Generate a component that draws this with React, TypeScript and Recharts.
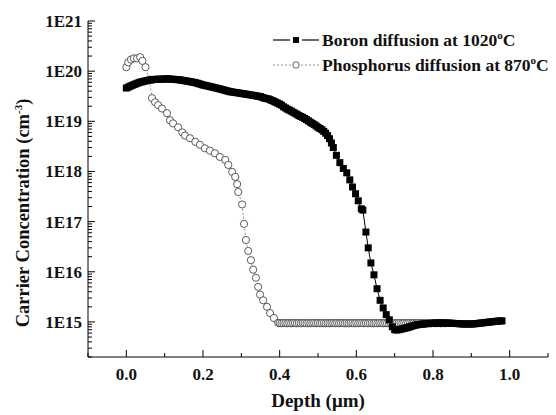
import React from "react";
import { ComposedChart, Line, XAxis, YAxis } from "recharts";

// Boron diffusion at 1020°C : depth (µm) and carrier concentration (cm^-3)
const boronDepth = [
  0.0, 0.005, 0.01, 0.015, 0.02, 0.025, 0.03, 0.035, 0.04, 0.045,
  0.05, 0.055, 0.06, 0.065, 0.07, 0.075, 0.08, 0.085, 0.09, 0.095,
  0.1, 0.105, 0.11, 0.115, 0.12, 0.125, 0.13, 0.135, 0.14, 0.145,
  0.15, 0.155, 0.16, 0.165, 0.17, 0.175, 0.18, 0.185, 0.19, 0.195,
  0.2, 0.205, 0.21, 0.215, 0.22, 0.225, 0.23, 0.235, 0.24, 0.245,
  0.25, 0.255, 0.26, 0.265, 0.27, 0.275, 0.28, 0.285, 0.29, 0.295,
  0.3, 0.305, 0.31, 0.315, 0.32, 0.325, 0.33, 0.335, 0.34, 0.345,
  0.35, 0.355, 0.36, 0.365, 0.37, 0.375, 0.38, 0.385, 0.39, 0.395,
  0.4, 0.405, 0.41, 0.415, 0.42, 0.425, 0.43, 0.435, 0.44, 0.445,
  0.45, 0.455, 0.46, 0.465, 0.47, 0.475, 0.48, 0.485, 0.49, 0.495,
  0.5, 0.505, 0.51, 0.515, 0.52, 0.525, 0.53, 0.535, 0.54, 0.548,
  0.557, 0.566, 0.575, 0.583, 0.59, 0.598, 0.605, 0.613, 0.617, 0.625,
  0.631, 0.638, 0.646, 0.654, 0.662, 0.67, 0.678, 0.686, 0.694, 0.7,
  0.705, 0.71, 0.715, 0.72, 0.725, 0.73, 0.735, 0.74, 0.745, 0.75,
  0.755, 0.76, 0.765, 0.77, 0.775, 0.78, 0.785, 0.79, 0.795, 0.8,
  0.805, 0.81, 0.815, 0.82, 0.825, 0.83, 0.835, 0.84, 0.845, 0.85,
  0.855, 0.86, 0.865, 0.87, 0.875, 0.88, 0.885, 0.89, 0.895, 0.9,
  0.905, 0.91, 0.915, 0.92, 0.925, 0.93, 0.935, 0.94, 0.945, 0.95,
  0.955, 0.96, 0.965, 0.97, 0.975, 0.98,
];
const boronConc = [
  4.6e19, 4.8e19, 5.0e19, 5.2e19, 5.4e19, 5.6e19, 5.8e19, 6.0e19, 6.1e19, 6.25e19,
  6.4e19, 6.5e19, 6.6e19, 6.7e19, 6.8e19, 6.85e19, 6.9e19, 6.9e19, 6.9e19, 6.95e19,
  7.0e19, 7.0e19, 7.0e19, 6.95e19, 6.9e19, 6.85e19, 6.8e19, 6.75e19, 6.7e19, 6.6e19,
  6.5e19, 6.4e19, 6.3e19, 6.2e19, 6.1e19, 6.0e19, 5.9e19, 5.75e19, 5.6e19, 5.45e19,
  5.3e19, 5.2e19, 5.1e19, 5.0e19, 4.9e19, 4.8e19, 4.7e19, 4.6e19, 4.5e19, 4.4e19,
  4.3e19, 4.2e19, 4.1e19, 4.0e19, 3.9e19, 3.85e19, 3.8e19, 3.75e19, 3.7e19, 3.65e19,
  3.6e19, 3.55e19, 3.5e19, 3.45e19, 3.4e19, 3.35e19, 3.3e19, 3.25e19, 3.2e19, 3.15e19,
  3.1e19, 3.0e19, 2.9e19, 2.85e19, 2.8e19, 2.7e19, 2.6e19, 2.5e19, 2.4e19, 2.3e19,
  2.2e19, 2.1e19, 1.95e19, 1.85e19, 1.75e19, 1.68e19, 1.6e19, 1.52e19, 1.45e19, 1.38e19,
  1.3e19, 1.25e19, 1.2e19, 1.14e19, 1.08e19, 1.02e19, 9.6e18, 9.1e18, 8.6e18, 8.1e18,
  7.6e18, 7.2e18, 6.8e18, 6.3e18, 5.8e18, 5.2e18, 4.5e18, 3.7e18, 3.0e18, 2.1e18,
  1.5e18, 1.15e18, 9.4e17, 6.8e17, 4.9e17, 3.6e17, 2.6e17, 1.8e17, 1.7e17, 6.2e16,
  3.0e16, 1.5e16, 8.7e15, 4.6e15, 2.7e15, 1.9e15, 1.4e15, 1.1e15, 8.0e14, 7.0e14,
  6.9e14, 7.0e14, 7.1e14, 7.3e14, 7.45e14, 7.6e14, 7.8e14, 8.0e14, 8.25e14, 8.5e14,
  8.65e14, 8.8e14, 8.9e14, 9.0e14, 9.1e14, 9.2e14, 9.25e14, 9.3e14, 9.35e14, 9.4e14,
  9.45e14, 9.5e14, 9.5e14, 9.5e14, 9.5e14, 9.5e14, 9.5e14, 9.5e14, 9.45e14, 9.4e14,
  9.35e14, 9.3e14, 9.25e14, 9.2e14, 9.15e14, 9.1e14, 9.1e14, 9.1e14, 9.1e14, 9.1e14,
  9.15e14, 9.2e14, 9.3e14, 9.4e14, 9.5e14, 9.6e14, 9.7e14, 9.8e14, 9.9e14, 1.0e15,
  1.01e15, 1.02e15, 1.03e15, 1.04e15, 1.045e15, 1.05e15,
];

// Phosphorus diffusion at 870°C
const phosDepth = [
  0.0, 0.005, 0.012, 0.02, 0.028, 0.036, 0.042, 0.05, 0.06, 0.067,
  0.075, 0.083, 0.093, 0.106, 0.114, 0.122, 0.135, 0.146, 0.153, 0.166,
  0.18, 0.192, 0.205, 0.218, 0.231, 0.244, 0.258, 0.266, 0.276, 0.284,
  0.289, 0.292, 0.302, 0.307, 0.312, 0.318, 0.325, 0.331, 0.338, 0.344,
  0.349, 0.357, 0.367, 0.375, 0.385, 0.396,
  0.4, 0.405, 0.41, 0.415, 0.42, 0.425, 0.43, 0.435, 0.44, 0.445,
  0.45, 0.455, 0.46, 0.465, 0.47, 0.475, 0.48, 0.485, 0.49, 0.495,
  0.5, 0.505, 0.51, 0.515, 0.52, 0.525, 0.53, 0.535, 0.54, 0.545,
  0.55, 0.555, 0.56, 0.565, 0.57, 0.575, 0.58, 0.585, 0.59, 0.595,
  0.6, 0.605, 0.61, 0.615, 0.62, 0.625, 0.63, 0.635, 0.64, 0.645,
  0.65, 0.655, 0.66, 0.665, 0.67, 0.675, 0.68, 0.685, 0.69, 0.695,
  0.7, 0.705, 0.71, 0.715, 0.72, 0.725, 0.73, 0.735, 0.74, 0.745,
  0.75, 0.755, 0.76, 0.765, 0.77, 0.775, 0.78, 0.785, 0.79, 0.795,
  0.8, 0.805, 0.81, 0.815, 0.82, 0.825, 0.83,
];
const phosConc = [
  1.2e20, 1.5e20, 1.7e20, 1.8e20, 1.8e20, 1.9e20, 1.6e20, 1.2e20, 6.8e19, 2.9e19,
  2.4e19, 2.1e19, 1.8e19, 1.45e19, 1.05e19, 9.1e18, 7.6e18, 6.0e18, 5.2e18, 4.6e18,
  3.9e18, 3.4e18, 2.9e18, 2.6e18, 2.3e18, 1.95e18, 1.7e18, 1.35e18, 9.8e17, 7.8e17,
  5.6e17, 3.9e17, 2.2e17, 9.0e16, 4.3e16, 2.6e16, 1.7e16, 1.1e16, 7.6e15, 5.0e15,
  3.5e15, 2.7e15, 2.0e15, 1.5e15, 1.2e15, 9.6e14,
  9.5e14, 9.4e14, 9.5e14, 9.5e14, 9.4e14, 9.5e14, 9.4e14, 9.5e14, 9.5e14, 9.4e14,
  9.5e14, 9.4e14, 9.5e14, 9.5e14, 9.4e14, 9.5e14, 9.4e14, 9.5e14, 9.5e14, 9.4e14,
  9.5e14, 9.4e14, 9.5e14, 9.5e14, 9.4e14, 9.5e14, 9.4e14, 9.5e14, 9.5e14, 9.4e14,
  9.5e14, 9.4e14, 9.5e14, 9.5e14, 9.4e14, 9.5e14, 9.4e14, 9.5e14, 9.5e14, 9.4e14,
  9.5e14, 9.4e14, 9.5e14, 9.5e14, 9.4e14, 9.5e14, 9.4e14, 9.5e14, 9.5e14, 9.4e14,
  9.5e14, 9.4e14, 9.5e14, 9.5e14, 9.4e14, 9.5e14, 9.4e14, 9.5e14, 9.5e14, 9.4e14,
  9.5e14, 9.4e14, 9.5e14, 9.5e14, 9.4e14, 9.5e14, 9.4e14, 9.5e14, 9.5e14, 9.4e14,
  9.5e14, 9.4e14, 9.5e14, 9.5e14, 9.4e14, 9.5e14, 9.4e14, 9.5e14, 9.5e14, 9.4e14,
  9.5e14, 9.4e14, 9.5e14, 9.5e14, 9.4e14, 9.5e14, 9.4e14,
];

const xTicks = [-0.1, 0, 0.1, 0.2, 0.3, 0.4, 0.5, 0.6, 0.7, 0.8, 0.9, 1.0, 1.1];
const xLabels = ["0.0", "0.2", "0.4", "0.6", "0.8", "1.0"];
const yDecades = [15, 16, 17, 18, 19, 20, 21];
const yTicks: number[] = [];
for (let d = 14; d <= 20; d++) {
  for (let m = 1; m <= 9; m++) {
    const v = m * Math.pow(10, d);
    if (v >= 2e14 && v <= 1e21) yTicks.push(v);
  }
}
yTicks.push(1e21);

const boronData = boronDepth.map((d, i) => ({ depth: d, conc: boronConc[i] }));
const phosData = phosDepth.map((d, i) => ({ depth: d, conc: phosConc[i] }));

const FONT = '"Liberation Serif", "Times New Roman", serif';

const YTick = (props: any) => {
  const { x, y, payload } = props;
  const v = payload.value;
  const e = Math.log10(v);
  const re = Math.round(e);
  const major = Math.abs(e - re) < 1e-6 && yDecades.includes(re);
  const ax = x + 6;
  return (
    <g>
      <line x1={ax} x2={ax + (major ? 7 : 4)} y1={y} y2={y} stroke="#000" strokeWidth={1} />
      {major && (
        <text x={x} y={y} dy={6} textAnchor="end" fontFamily={FONT} fontWeight="bold" fontSize={17} fill="#111">
          {`1E${re}`}
        </text>
      )}
    </g>
  );
};

const XTick = (props: any) => {
  const { x, y, payload } = props;
  const v = payload.value;
  const label = v.toFixed(1);
  const major = xLabels.includes(label) && v >= 0;
  const ay = y - 8;
  return (
    <g>
      <line x1={x} x2={x} y1={ay} y2={ay - (major ? 7 : 4)} stroke="#000" strokeWidth={1} />
      {major && (
        <text x={x} y={ay} dy={23} textAnchor="middle" fontFamily={FONT} fontWeight="bold" fontSize={17} fill="#111">
          {label}
        </text>
      )}
    </g>
  );
};

const SquareDot = (props: any) => {
  const { cx, cy, index } = props;
  if (cx == null || cy == null) return <g key={index} />;
  return <rect key={index} x={cx - 3.5} y={cy - 3.5} width={7} height={7} fill="#000" />;
};

const CircleDot = (props: any) => {
  const { cx, cy, index } = props;
  if (cx == null || cy == null) return <g key={index} />;
  return <circle key={index} cx={cx} cy={cy} r={3.6} fill="#fff" stroke="#333" strokeWidth={0.8} />;
};

export default function App() {
  return (
    <div style={{ position: "absolute", left: 0, top: 0, width: 556, height: 415, background: "#fff", fontFamily: FONT }}>
      <ComposedChart width={556} height={415} margin={{ top: 21, right: 8, bottom: 0, left: 0 }}>
        <XAxis
          dataKey="depth"
          type="number"
          domain={[-0.1, 1.1]}
          ticks={xTicks}
          allowDataOverflow
          height={58}
          tickSize={0}
          tickMargin={8}
          tickLine={false}
          axisLine={{ stroke: "#000", strokeWidth: 1 }}
          tick={<XTick />}
          interval={0}
        />
        <YAxis
          dataKey="conc"
          type="number"
          scale="log"
          domain={[2e14, 1e21]}
          ticks={yTicks}
          allowDataOverflow
          width={88}
          tickSize={0}
          tickMargin={6}
          tickLine={false}
          axisLine={{ stroke: "#000", strokeWidth: 1 }}
          tick={<YTick />}
          interval={0}
        />
        <Line
          data={phosData}
          dataKey="conc"
          type="linear"
          stroke="#777"
          strokeWidth={0.8}
          strokeDasharray="2 2"
          dot={<CircleDot />}
          isAnimationActive={false}
        />
        <Line
          data={boronData}
          dataKey="conc"
          type="linear"
          stroke="#000"
          strokeWidth={1}
          dot={<SquareDot />}
          isAnimationActive={false}
        />
      </ComposedChart>

      {/* Legend */}
      <div style={{ position: "absolute", left: 270, top: 27, fontWeight: "bold", fontSize: 17.5, color: "#111" }}>
        <div style={{ display: "flex", alignItems: "center", whiteSpace: "nowrap", height: 25 }}>
          <svg width={52} height={20}>
            <line x1={3} x2={20} y1={10} y2={10} stroke="#000" strokeWidth={1.2} />
            <rect x={23} y={7} width={6} height={6} fill="#000" />
            <line x1={32} x2={49} y1={10} y2={10} stroke="#000" strokeWidth={1.2} />
          </svg>
          <span>Boron diffusion at 1020<sup style={{ fontSize: 11 }}>o</sup>C</span>
        </div>
        <div style={{ display: "flex", alignItems: "center", whiteSpace: "nowrap", height: 25 }}>
          <svg width={52} height={20}>
            <line x1={3} x2={21} y1={10} y2={10} stroke="#777" strokeWidth={0.8} strokeDasharray="2 2" />
            <circle cx={26} cy={10} r={3.2} fill="#fff" stroke="#333" strokeWidth={0.8} />
            <line x1={31} x2={49} y1={10} y2={10} stroke="#777" strokeWidth={0.8} strokeDasharray="2 2" />
          </svg>
          <span>Phosphorus diffusion at 870<sup style={{ fontSize: 11 }}>o</sup>C</span>
        </div>
      </div>

      {/* Y axis title */}
      <div
        style={{
          position: "absolute",
          left: 23,
          top: 213,
          transform: "translate(-50%, -50%) rotate(-90deg)",
          whiteSpace: "nowrap",
          fontWeight: "bold",
          fontSize: 18.5,
          color: "#111",
        }}
      >
        Carrier Concentration (cm<sup style={{ fontSize: 11 }}>-3</sup>)
      </div>

      {/* X axis title */}
      <div
        style={{
          position: "absolute",
          left: 318,
          top: 401,
          transform: "translate(-50%, -50%)",
          whiteSpace: "nowrap",
          fontWeight: "bold",
          fontSize: 19,
          color: "#111",
        }}
      >
        Depth (μm)
      </div>
    </div>
  );
}
